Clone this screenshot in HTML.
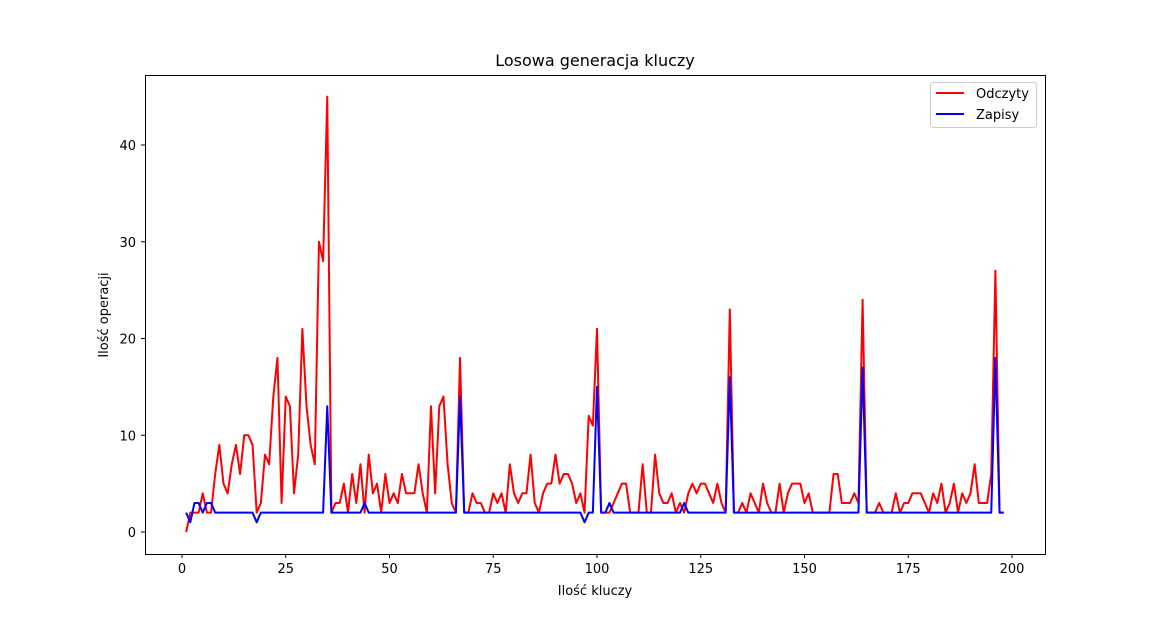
<!DOCTYPE html>
<html><head><meta charset="utf-8"><style>body{margin:0;background:#fff}svg{font-family:"DejaVu Sans","Liberation Sans",sans-serif}</style></head>
<body>
<svg id="chart" width="1160" height="623"></svg>
<script>
const readsSeries=[0,2,2,2,4,2,2,6,9,5,4,7,9,6,10,10,9,2,3,8,7,14,18,3,14,13,4,8,21,13,9,7,30,28,45,2,3,3,5,2,6,3,7,2,8,4,5,2,6,3,4,3,6,4,4,4,7,4,2,13,4,13,14,7,3,2,18,2,2,4,3,3,2,2,4,3,4,2,7,4,3,4,4,8,3,2,4,5,5,8,5,6,6,5,3,4,2,12,11,21,2,2,2,3,4,5,5,2,2,2,7,2,2,8,4,3,3,4,2,3,2,4,5,4,5,5,4,3,5,3,2,23,2,2,3,2,4,3,2,5,3,2,2,5,2,4,5,5,5,3,4,2,2,2,2,2,6,6,3,3,3,4,3,24,2,2,2,3,2,2,2,4,2,3,3,4,4,4,3,2,4,3,5,2,3,5,2,4,3,4,7,3,3,3,6,27,2,2];
const writesSeries=[2,1,3,3,2,3,3,2,2,2,2,2,2,2,2,2,2,1,2,2,2,2,2,2,2,2,2,2,2,2,2,2,2,2,13,2,2,2,2,2,2,2,2,3,2,2,2,2,2,2,2,2,2,2,2,2,2,2,2,2,2,2,2,2,2,2,14,2,2,2,2,2,2,2,2,2,2,2,2,2,2,2,2,2,2,2,2,2,2,2,2,2,2,2,2,2,1,2,2,15,2,2,3,2,2,2,2,2,2,2,2,2,2,2,2,2,2,2,2,2,3,2,2,2,2,2,2,2,2,2,2,16,2,2,2,2,2,2,2,2,2,2,2,2,2,2,2,2,2,2,2,2,2,2,2,2,2,2,2,2,2,2,2,17,
2,2,2,2,2,2,2,2,2,2,
2,2,2,2,2,2,2,2,2,2,
2,2,2,2,2,2,2,2,2,2,
2,18,2,2];
const xTicks=[0,25,50,75,100,125,150,175,200];
const yTicks=[0,10,20,30,40];
const NS="http://www.w3.org/2000/svg";
const svg=document.getElementById('chart');
const X=v=>182+v*4.15, Y=v=>532-v*9.675;
function mk(t,a,txt){const e=document.createElementNS(NS,t);for(const k in a)e.setAttribute(k,a[k]);if(txt!==undefined)e.textContent=txt;svg.appendChild(e);return e;}
let e;
e=mk('rect',{x:145.5,y:75.5,width:900,height:479,fill:'none',stroke:'#000','stroke-width':1});


e=mk('text',{x:595,y:66,'text-anchor':'middle','font-size':16},'Losowa generacja kluczy');


e=mk('text',{x:595,y:595,'text-anchor':'middle','font-size':13},'Ilość kluczy');


e=mk('text',{x:108,y:315,'text-anchor':'middle','font-size':13,transform:'rotate(-90 108 315)'},'Ilość operacji');


xTicks.forEach(t=>{
 e=mk('line',{x1:X(t),x2:X(t),y1:554,y2:558,stroke:'#000'});
 
 
 e=mk('text',{x:X(t),y:573,'text-anchor':'middle','font-size':13},String(t));
 
 
});
yTicks.forEach(t=>{
 e=mk('line',{x1:141,x2:145,y1:Y(t),y2:Y(t),stroke:'#000'});
 
 
 e=mk('text',{x:136,y:Y(t)+5,'text-anchor':'end','font-size':13},String(t));
 
 
});
function line(arr,color,name){
 const pts=arr.map((v,i)=>X(i+1).toFixed(2)+','+Y(v).toFixed(2)).join(' ');
 e=mk('polyline',{points:pts,fill:'none',stroke:color,'stroke-width':2,'stroke-linejoin':'round'});
 
 
}
line(readsSeries,'#ff0000','reads-line');
line(writesSeries,'#0000ff','writes-line');
e=mk('rect',{x:930.5,y:82.5,width:106,height:45,rx:3,fill:'#fff',stroke:'#ccc'});


e=mk('line',{x1:936,x2:964,y1:93,y2:93,stroke:'#ff0000','stroke-width':2});


e=mk('text',{x:976,y:98,'font-size':13},'Odczyty');


e=mk('line',{x1:936,x2:964,y1:114,y2:114,stroke:'#0000ff','stroke-width':2});


e=mk('text',{x:976,y:119,'font-size':13},'Zapisy');


</script>
</body></html>
